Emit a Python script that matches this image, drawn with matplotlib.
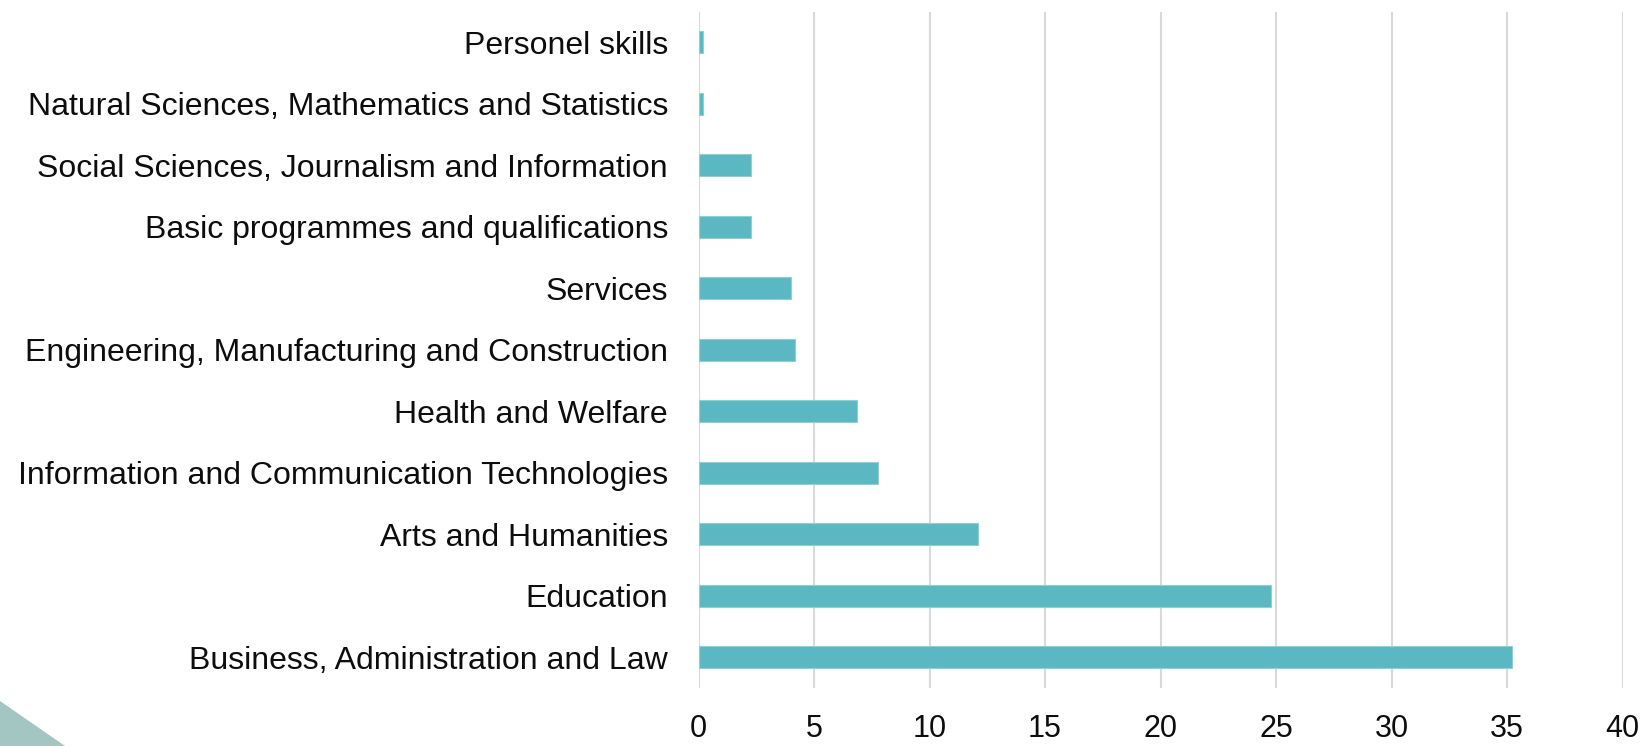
import matplotlib
matplotlib.use("Agg")
import matplotlib.pyplot as plt
from matplotlib.patches import Polygon

categories = [
    "Business, Administration and Law",
    "Education",
    "Arts and Humanities",
    "Information and Communication Technologies",
    "Health and Welfare",
    "Engineering, Manufacturing and Construction",
    "Services",
    "Basic programmes and qualifications",
    "Social Sciences, Journalism and Information",
    "Natural Sciences, Mathematics and Statistics",
    "Personel skills",
]
values = [35.23, 24.78, 12.11, 7.76, 6.88, 4.16, 4.0, 2.27, 2.27, 0.19, 0.19]
xticks = [0, 5, 10, 15, 20, 25, 30, 35, 40]

plt.rcParams['font.family'] = ['Liberation Sans', 'DejaVu Sans']

W, H = 1646, 746
fig = plt.figure(figsize=(W / 100, H / 100), dpi=100)
left, right = 698.5 / W, 1622.5 / W
bottom, top = 1 - 688 / H, 1 - 11.5 / H
ax = fig.add_axes([left, bottom, right - left, top - bottom])

ypos = list(range(len(categories)))
ax.barh(ypos, values, height=0.35, color="#5bb7c1", edgecolor="#8fd0d6", linewidth=0.8, zorder=3)

ax.set_xlim(0, 40)
ax.set_ylim(-0.5, len(categories) - 0.5)
ax.set_xticks(xticks)
ax.set_xticklabels([str(t) for t in xticks])
ax.set_yticks(ypos)
ax.set_yticklabels(categories)
ax.grid(axis="x", color="#d9d9d9", linewidth=1.5, zorder=0)
ax.axvline(0, color="#d9d9d9", linewidth=1.5, zorder=1)
for s in ax.spines.values():
    s.set_visible(False)
ax.tick_params(axis="both", length=0, colors="#0d0d0d")
ax.tick_params(axis="y", labelsize=23, pad=22)
ax.tick_params(axis="x", labelsize=22, pad=19)

# decorative triangle bottom-left
tri = Polygon([[0, 1 - 701 / H], [65 / W, 0], [0, 0]], closed=True,
              transform=fig.transFigure, facecolor="#a3c6c3", edgecolor="none")
fig.patches.append(tri)

fig.savefig("out.png", dpi=100)
